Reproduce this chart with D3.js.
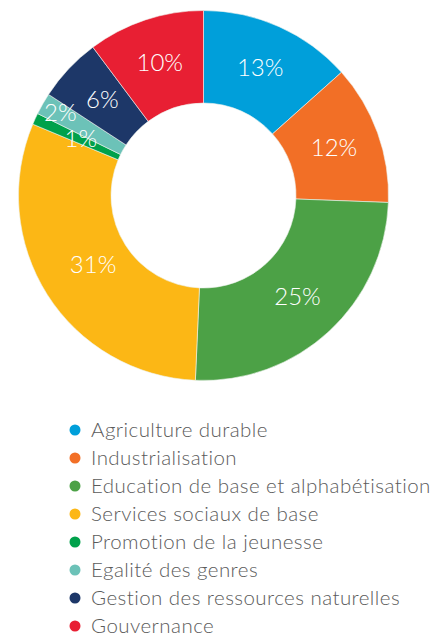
<!DOCTYPE html>
<html><head><meta charset="utf-8">
<script src="https://cdn.jsdelivr.net/npm/d3@7"></script>
<style>html,body{margin:0;padding:0;background:#fff;}svg{display:block;}</style>
</head><body>
<svg id="c" width="437" height="640"></svg>
<script>
const categories = ["Agriculture durable","Industrialisation","Education de base et alphabétisation","Services sociaux de base","Promotion de la jeunesse","Egalité des genres","Gestion des ressources naturelles","Gouvernance"];
const values = [13.4, 12.2, 25.1, 30.6, 1.0, 1.9, 5.6, 10.2];
const labels = ["13%","12%","25%","31%","1%","2%","6%","10%"];
const colors = ["#009fda","#f26f26","#4ca146","#fcb715","#00a14b","#6cc2b8","#1d3768","#e81f33"];

const svg = d3.select("#c");
const cx = 203.5, cy = 195.5, R = 185, r0 = 92.5;
const FONT = "Lato, 'Open Sans', sans-serif";
const data = categories.map((c,i)=>({cat:c, value:values[i], label:labels[i], color:colors[i]}));
const pie = d3.pie().value(d=>d.value).sort(null).startAngle(0).endAngle(2*Math.PI);
const arcs = pie(data);
const arc = d3.arc().innerRadius(r0).outerRadius(R);
const g = svg.append("g").attr("transform",`translate(${cx},${cy})`);
g.selectAll("path").data(arcs).join("path")
  .attr("d",arc).attr("fill",d=>d.data.color)
  .attr("stroke","#eef3ee").attr("stroke-width",0.6);

const radNudge = {"Egalité des genres":26, "Promotion de la jeunesse":-4, "Services sociaux de base":-8};
g.selectAll("text").data(arcs).join("text")
  .attr("transform",d=>{
    const rr = (r0+R)/2 + (radNudge[d.data.cat]||0);
    const a = (d.startAngle+d.endAngle)/2;
    return `translate(${rr*Math.sin(a)},${-rr*Math.cos(a)})`;
  })
  .attr("text-anchor","middle").attr("dy","0.3em")
  .attr("fill","#fff").attr("font-family",FONT).attr("font-weight",300)
  .attr("font-size",24).text(d=>d.data.label);

const y = d3.scaleBand().domain(categories).range([416,640]);
const leg = svg.append("g");
const rows = leg.selectAll("g").data(data).join("g")
  .attr("transform",d=>`translate(0,${y(d.cat)+y.bandwidth()/2})`);
rows.append("circle").attr("cx",75).attr("cy",0).attr("r",5.5).attr("fill",d=>d.color);
rows.append("text").attr("x",91).attr("dy","0.35em")
  .attr("fill","#5b5b5b").attr("font-family",FONT).attr("font-weight",300)
  .attr("font-size",20.5).attr("letter-spacing",0.45).text(d=>d.cat);
</script>
</body></html>
